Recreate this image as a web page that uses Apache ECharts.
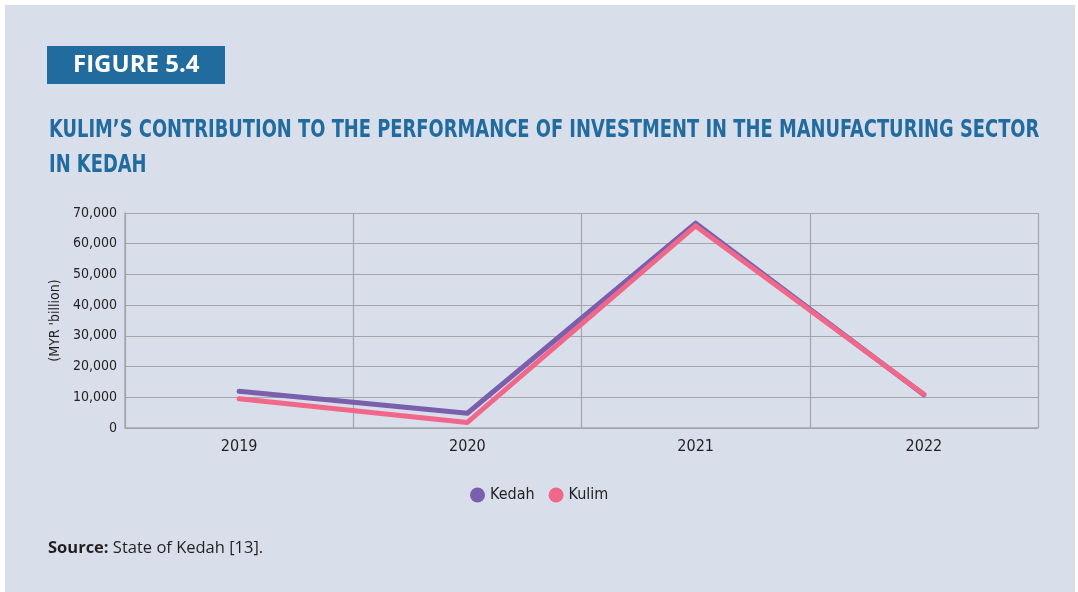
<!DOCTYPE html>
<html>
<head>
<meta charset="utf-8">
<script src="https://cdn.jsdelivr.net/npm/echarts@6/dist/echarts.min.js"></script>
<style>
  html, body { margin: 0; padding: 0; background: #fff; }
  #chart { position: absolute; left: 5px; top: 5px; width: 1070px; height: 587px; background: #d8dfeb; }
</style>
</head>
<body>
<div id="chart"></div>
<script>
// data
var years = ['2019', '2020', '2021', '2022'];
var kedah = [12000, 4800, 66700, 10800];
var kulim = [9500, 1800, 65800, 11000];
var yTicks = [0, 10000, 20000, 30000, 40000, 50000, 60000, 70000];

var narrow = "'Liberation Sans Narrow', 'DejaVu Sans Condensed', sans-serif";
var gridColor = '#a3a7ac';

var chart = echarts.init(document.getElementById('chart'));
var option = {
    backgroundColor: '#d8dfeb',
    animation: false,
    graphic: [
        {
            type: 'rect',
            left: 42, top: 41,
            shape: { width: 178, height: 38 },
            style: { fill: '#216b9f' }
        },
        {
            type: 'text',
            left: 68, top: 48,
            style: { text: 'FIGURE 5.4', fill: '#fff', font: "bold 24px 'Open Sans', sans-serif" }
        },
        {
            // title, squeezed to match the condensed face of the original
            type: 'text',
            x: 44, y: 108,
            scaleX: 0.795,
            style: {
                text: 'KULIM\u2019S CONTRIBUTION TO THE PERFORMANCE OF INVESTMENT IN THE MANUFACTURING SECTOR\nIN KEDAH',
                fill: '#216b9f',
                font: "bold 25px 'DejaVu Sans Condensed', sans-serif",
                lineHeight: 35,
                verticalAlign: 'top'
            }
        },
        {
            type: 'text',
            left: 43, top: 535,
            style: {
                text: '{b|Source:} State of Kedah [13].',
                rich: {
                    b: { fontWeight: 'bold', fontSize: 16.5, fill: '#231f20', fontFamily: "'Open Sans', sans-serif" }
                },
                fontSize: 16.5, fill: '#231f20', fontFamily: "'Open Sans', sans-serif"
            }
        }
    ],
    legend: {
        data: ['Kedah', 'Kulim'],
        left: 460,
        top: 477,
        icon: 'circle',
        itemWidth: 15,
        itemHeight: 15,
        itemGap: 14,
        textStyle: { fontSize: 16, color: '#231f20', fontFamily: narrow }
    },
    grid: { left: 120, right: 37, top: 208, bottom: 164 },
    xAxis: {
        type: 'category',
        data: years,
        boundaryGap: true,
        axisLine: { show: true, lineStyle: { color: gridColor, width: 1.5 } },
        axisTick: { show: false },
        splitLine: { show: true, lineStyle: { color: gridColor, width: 1.2 } },
        axisLabel: { fontSize: 16, color: '#231f20', fontFamily: narrow, margin: 11 }
    },
    yAxis: {
        type: 'value',
        min: yTicks[0],
        max: yTicks[yTicks.length - 1],
        interval: yTicks[1] - yTicks[0],
        name: "(MYR 'billion)",
        nameLocation: 'middle',
        nameRotate: 90,
        nameGap: 50,
        nameTextStyle: { fontSize: 14, color: '#231f20', fontFamily: narrow },
        axisLine: { show: true, lineStyle: { color: gridColor, width: 1.5 } },
        axisTick: { show: false },
        splitLine: { show: true, lineStyle: { color: gridColor, width: 1.2 } },
        axisLabel: {
            fontSize: 14, color: '#231f20', fontFamily: narrow, margin: 8,
            formatter: function (v) { return v.toLocaleString('en-US'); }
        }
    },
    series: [
        {
            name: 'Kedah', type: 'line', data: kedah,
            symbol: 'none',
            itemStyle: { color: '#7a5fac' },
            lineStyle: { width: 5, color: '#7a5fac', join: 'round', cap: 'round' }
        },
        {
            name: 'Kulim', type: 'line', data: kulim,
            symbol: 'none',
            itemStyle: { color: '#f1678a' },
            lineStyle: { width: 5, color: '#f1678a', join: 'round', cap: 'round' }
        }
    ]
};
chart.setOption(option);
</script>
</body>
</html>
